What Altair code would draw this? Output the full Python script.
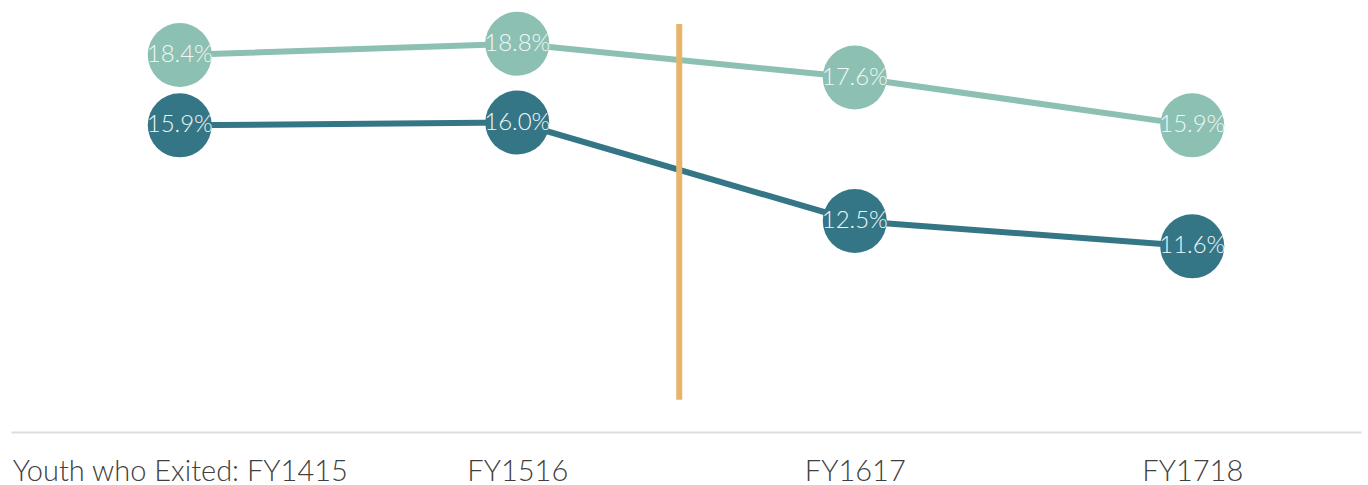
import altair as alt
import pandas as pd

periods = ["Youth who Exited: FY1415", "FY1516", "FY1617", "FY1718"]
series_names = ["Series A", "Series B"]
series_a = [18.4, 18.8, 17.6, 15.9]
series_b = [15.9, 16.0, 12.5, 11.6]
divider_x = [1.48]
divider_y = [6.15]
divider_y2 = [19.5]

rows = []
for i, p in enumerate(periods):
    rows.append({"idx": i, "period": p, "series": series_names[0], "value": series_a[i]})
    rows.append({"idx": i, "period": p, "series": series_names[1], "value": series_b[i]})
df = pd.DataFrame(rows)
df["label"] = df["value"].map(lambda v: f"{v:.1f}%")

rule_df = pd.DataFrame({"idx": divider_x, "value": divider_y, "value2": divider_y2})

colors = alt.Scale(domain=series_names, range=["#8cc0b2", "#347686"])

label_expr = "[" + ",".join(f"'{p}'" for p in periods) + "][datum.value]"

x = alt.X("idx:Q", scale=alt.Scale(domain=[-0.5, 3.5], nice=False, zero=False),
          axis=alt.Axis(title=None, values=[0, 1, 2, 3], labelExpr=label_expr,
                        grid=False, ticks=False, domain=True, domainColor="#dddddd",
                        domainWidth=2, labelFont="Lato", labelFontSize=29,
                        labelFontWeight=300, labelColor="#404040", labelPadding=25,
                        labelBaseline="top", labelLimit=0, labelOverlap=False))
y = alt.Y("value:Q", scale=alt.Scale(domain=[5, 20], nice=False, zero=False), axis=None)

lines = alt.Chart(df).mark_line(strokeWidth=6).encode(
    x=x, y=y, color=alt.Color("series:N", scale=colors, legend=None))

rule = alt.Chart(rule_df).mark_rule(color="#e8b46a", strokeWidth=6).encode(
    x=x, y=y, y2="value2:Q")

points = alt.Chart(df).mark_circle(size=4096, opacity=1).encode(
    x=x, y=y, color=alt.Color("series:N", scale=colors, legend=None))

text = alt.Chart(df).mark_text(font="Lato", fontSize=24, fontWeight=300,
                               color="#f2f7f6").encode(x=x, y=y, text="label:N")

chart = alt.layer(lines, rule, points, text).properties(
    width=1350, height=422, background="white",
    padding={"left": 11, "top": 10, "right": 7, "bottom": 53},
    autosize=alt.AutoSizeParams(type="none"),
).configure_view(stroke=None)

chart.save("out.html", embed_options={"renderer": "svg", "actions": False})
